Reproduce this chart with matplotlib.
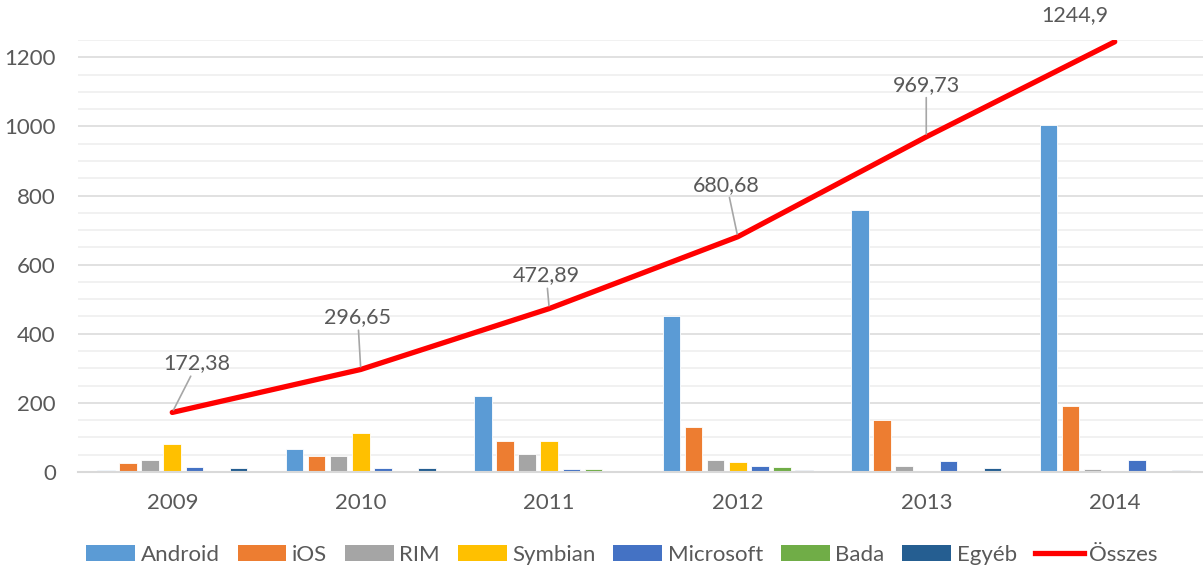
import matplotlib
matplotlib.use("Agg")
from matplotlib import pyplot as plt
from matplotlib.patches import Patch
from matplotlib.lines import Line2D
import numpy as np

plt.rcParams['font.family'] = ['Lato', 'DejaVu Sans']

years = ['2009', '2010', '2011', '2012', '2013', '2014']
series_names = ['Android', 'iOS', 'RIM', 'Symbian', 'Microsoft', 'Bada', 'Egyéb']
android = [6.8, 67.2, 219.5, 451.6, 758.7, 1004.7]
ios = [24.9, 46.6, 89.3, 130.1, 150.8, 191.4]
rim = [34.3, 47.5, 51.5, 34.2, 18.6, 7.9]
symbian = [80.9, 111.6, 89.9, 28.0, 0, 0]
microsoft = [15.0, 12.4, 8.8, 16.9, 30.8, 35.1]
bada = [0, 0, 9.6, 15.0, 0, 0]
egyeb = [10.4, 11.4, 4.3, 4.9, 10.8, 5.8]
osszes = [172.38, 296.65, 472.89, 680.68, 969.73, 1244.9]
osszes_labels = ['172,38', '296,65', '472,89', '680,68', '969,73', '1244,9']

colors = ['#5B9BD5', '#ED7D31', '#A5A5A5', '#FFC000', '#4472C4', '#70AD47', '#255E91']
text_col = '#595959'

fig = plt.figure(figsize=(12.03, 5.68), dpi=100)
ax = fig.add_axes([78 / 1203, 96 / 568, 1131 / 1203, 432 / 568])

x = np.arange(len(years))
slot = 0.117
width = 0.093
all_series = [android, ios, rim, symbian, microsoft, bada, egyeb]
for i, vals in enumerate(all_series):
    ax.bar(x + (i - 3) * slot, vals, width, color=colors[i],
           edgecolor='white', linewidth=0.6, zorder=2)

ax.plot(x, osszes, color='#FF0000', linewidth=3.8, solid_capstyle='round', zorder=3)

# label offsets in pixels (dx, dy); last label has no leader line
offsets = [(25, 49), (-3, 52), (-3, 33), (-11, 52), (0, 52), (-40, 27)]
for i, (val, lab) in enumerate(zip(osszes, osszes_labels)):
    arrow = None
    if i < len(osszes) - 1:
        arrow = dict(arrowstyle='-', color='#A6A6A6', lw=1.2, shrinkA=0, shrinkB=2)
    ax.annotate(lab, (x[i], val), xytext=offsets[i], textcoords='offset pixels',
                ha='center', va='center', fontsize=15.5, color=text_col,
                annotation_clip=False, arrowprops=arrow)

ax.set_xlim(-0.5, 5.5)
ax.set_ylim(0, 1250)
ax.set_yticks(np.arange(0, 1201, 200))
ax.set_yticks(np.arange(0, 1251, 50), minor=True)
ax.grid(axis='y', which='major', color='#D9D9D9', linewidth=1.1, zorder=0)
ax.grid(axis='y', which='minor', color='#EDEDED', linewidth=1.1, zorder=0)
ax.set_axisbelow(True)
ax.set_xticks(x)
ax.set_xticklabels(years)
ax.tick_params(axis='both', which='both', length=0, labelsize=16, labelcolor=text_col)
ax.tick_params(axis='y', pad=16)
ax.tick_params(axis='x', pad=15)
for s in ['top', 'right', 'left']:
    ax.spines[s].set_visible(False)
ax.spines['bottom'].set_color('#D9D9D9')
ax.spines['bottom'].set_linewidth(1.5)

handles = [Patch(facecolor=c, edgecolor='none') for c in colors]
handles.append(Line2D([0], [0], color='#FF0000', linewidth=3.8))
fig.legend(handles, series_names + ['Összes'], loc='lower center',
           bbox_to_anchor=(0.517, -0.03), ncol=8, frameon=False, fontsize=16,
           handlelength=2.2, handleheight=0.75, handletextpad=0.25,
           columnspacing=0.8, labelcolor=text_col)

fig.savefig('out.png', dpi=100)
